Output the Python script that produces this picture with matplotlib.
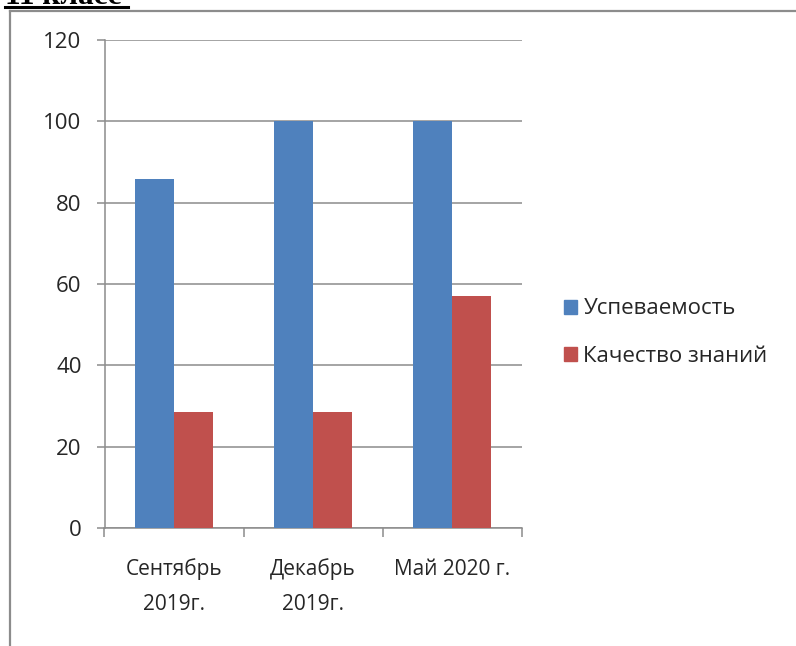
import matplotlib.pyplot as plt
import numpy as np
from matplotlib.lines import Line2D
from matplotlib.patches import Patch

categories = ["Сентябрь\n2019г.", "Декабрь\n2019г.", "Май 2020 г."]
uspevaemost = [85.7, 100, 100]
kachestvo = [28.6, 28.6, 57.1]
series_names = ["Успеваемость", "Качество знаний"]
yticks = [0, 20, 40, 60, 80, 100, 120]

plt.rcParams["font.family"] = ["Open Sans", "DejaVu Sans"]

W, H = 796, 646
fig = plt.figure(figsize=(W / 100, H / 100), dpi=100)

# frame around the chart
fig.add_artist(Line2D([10 / W, 10 / W], [0, 1 - 11 / H], color="#8c8c8c", lw=1.6))
fig.add_artist(Line2D([10 / W, 1], [1 - 11 / H, 1 - 11 / H], color="#8c8c8c", lw=1.6))

# heading above the chart, cut by the page edge
fig.text(5 / W, 1 - 3.5 / H, "11 класс", family="Liberation Serif", weight="bold",
         fontsize=22.5, va="baseline", ha="left")
fig.add_artist(Line2D([5 / W, 128 / W], [1 - 7 / H, 1 - 7 / H], color="black", lw=2.2))

ax = fig.add_axes([104.5 / W, 1 - 528 / H, 417.5 / W, 488 / H])
x = np.arange(len(categories))
w = 0.28
ax.bar(x - w / 2, uspevaemost, w, color="#4F81BD", zorder=3)
ax.bar(x + w / 2, kachestvo, w, color="#C0504D", zorder=3)

ax.set_xlim(-0.5, 2.5)
ax.set_ylim(0, 120)
ax.set_yticks(yticks)
ax.yaxis.grid(True, color="#8c8c8c", lw=1.1, zorder=0)
ax.set_axisbelow(True)
for s in ["top", "right"]:
    ax.spines[s].set_visible(False)
for s in ["left", "bottom"]:
    ax.spines[s].set_color("#8c8c8c")
    ax.spines[s].set_linewidth(1.1)

ax.set_xticks([-0.5, 0.5, 1.5, 2.5])
ax.set_xticklabels([])
ax.set_xticks(x, categories, minor=True)
ax.tick_params(axis="x", which="major", length=6.5, width=1.1, color="#8c8c8c", direction="out")
ax.tick_params(axis="x", which="minor", length=0, pad=22, labelsize=15, labelcolor="#262626")
ax.tick_params(axis="y", length=6, width=1.1, color="#8c8c8c", pad=10.5, labelsize=16,
               labelcolor="#262626")
for t in ax.get_xticklabels(minor=True):
    t.set_linespacing(1.85)

handles = [Patch(color="#4F81BD"), Patch(color="#C0504D")]
ax.legend(handles, series_names, loc="center left", bbox_to_anchor=(1.1, 0.4),
          frameon=False, fontsize=16, handlelength=0.58, handleheight=0.58,
          handletextpad=0.3, labelspacing=1.2, borderpad=0, borderaxespad=0,
          labelcolor="#262626")

fig.savefig("out.png", dpi=100)
